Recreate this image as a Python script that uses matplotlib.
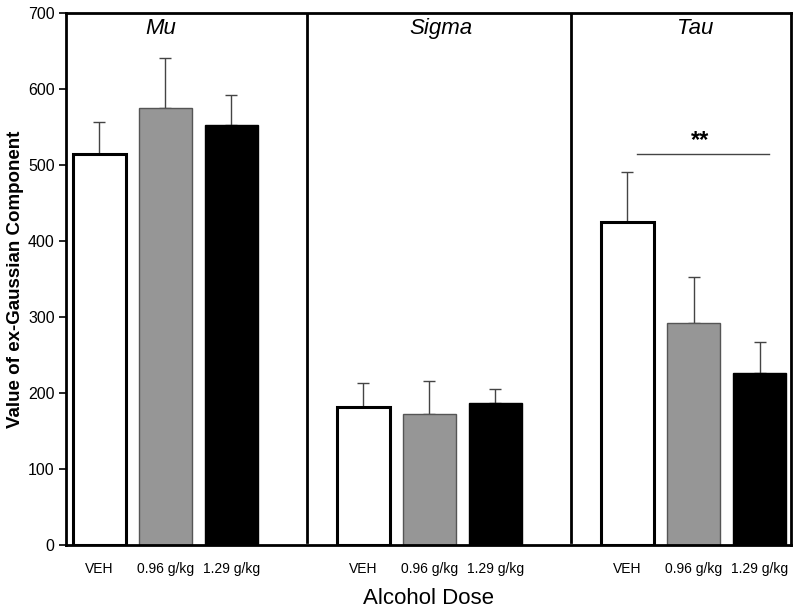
import matplotlib
matplotlib.use("Agg")
import matplotlib.pyplot as plt

plt.rcParams['font.family'] = ['Liberation Sans', 'DejaVu Sans']

# data
components = ['Mu', 'Sigma', 'Tau']
doses = ['VEH', '0.96 g/kg', '1.29 g/kg']
means = {
    'Mu':    [514, 575, 553],
    'Sigma': [182, 172, 187],
    'Tau':   [425, 292, 226],
}
sems = {
    'Mu':    [42, 66, 39],
    'Sigma': [31, 44, 18],
    'Tau':   [66, 60, 41],
}
fills = ['white', '#969696', 'black']
edges = ['black', '#555555', 'black']
edge_w = [2.2, 1.0, 1.0]
title_x = [0.93, 5.18, 9.02]

fig, ax = plt.subplots(figsize=(8, 6.15), dpi=100)
fig.subplots_adjust(left=0.083, right=0.989, top=0.979, bottom=0.114)

xticks = []
xlabels = []
for p, comp in enumerate(components):
    for i in range(3):
        x = p * 4 + i
        ax.bar(x, means[comp][i], width=0.8, color=fills[i],
               edgecolor=edges[i], linewidth=edge_w[i], zorder=2)
        ax.errorbar(x, means[comp][i], yerr=[[0], [sems[comp][i]]],
                    fmt='none', ecolor='#444444', elinewidth=1.0,
                    capsize=4, capthick=1.0, zorder=1)
        xticks.append(x)
        xlabels.append(doses[i])
    ax.text(title_x[p], 680, comp, style='italic',
            fontsize=16, ha='center', va='center')

# panel dividers
for xd in [3.15, 7.15]:
    ax.axvline(xd, ymin=0.005, ymax=1, color='black', linewidth=2)

# significance marker in Tau panel
ax.plot([8.15, 10.15], [514, 514], color='#444444', linewidth=1.0)
ax.text(9.1, 532, '**', fontsize=17, fontweight='bold', ha='center', va='center')

ax.set_xlim(-0.5, 10.48)
ax.set_ylim(0, 700)
ax.set_yticks(range(0, 701, 100))
ax.set_xticks(xticks)
ax.set_xticklabels(xlabels, fontsize=10)
ax.tick_params(axis='x', length=0, pad=12)
ax.tick_params(axis='y', labelsize=11.5, length=5, width=1.2, direction='out')
for s in ax.spines.values():
    s.set_linewidth(2)

ax.set_ylabel('Value of ex-Gaussian Component', fontsize=13.5, fontweight='bold', labelpad=3)
ax.set_xlabel('Alcohol Dose', fontsize=16, labelpad=9)

plt.savefig('out.png', dpi=100)
